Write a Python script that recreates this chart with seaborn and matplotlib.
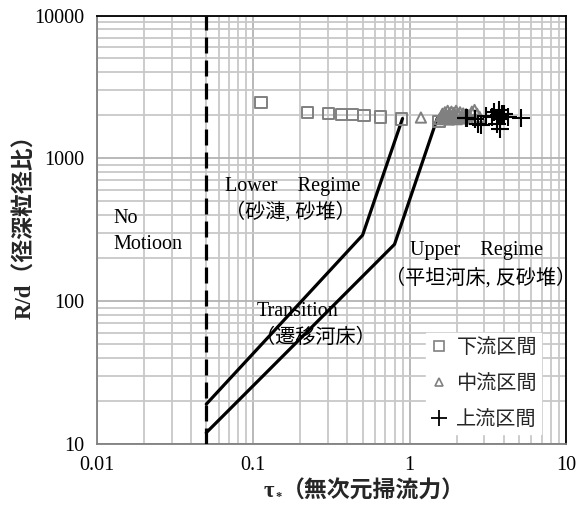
import numpy as np
import pandas as pd
import matplotlib
matplotlib.use("Agg")
import matplotlib.pyplot as plt
import matplotlib.ticker as mticker
from matplotlib.lines import Line2D
import seaborn as sns

# ---------------- data ----------------
sq_x = [0.112, 0.221, 0.301, 0.366, 0.43, 0.51, 0.65, 0.89, 1.54]
sq_y = [2460, 2090, 2055, 2030, 2020, 1990, 1950, 1885, 1810]

tri_x = [1.18, 1.55, 1.60, 1.62, 1.65, 1.68, 1.70, 1.72, 1.75, 1.78, 1.80, 1.82,
         1.85, 1.88, 1.90, 1.92, 1.95, 1.98, 2.00, 2.03, 2.06, 2.10, 2.13, 2.16,
         2.20, 2.25, 2.30, 2.35, 2.40, 2.50, 2.60, 2.70, 2.80]
tri_y = [1930, 1880, 1980, 2050, 1900, 2100, 1950, 2000, 2150, 1870, 2060, 1950,
         2120, 1900, 2020, 2080, 1960, 2150, 1880, 2050, 1980, 2100, 1920, 2000,
         2060, 1950, 2040, 1900, 2000, 2120, 2180, 2050, 1950]

cr_x = [2.29, 2.34, 2.60, 2.72, 2.85, 3.07, 3.38, 3.47, 3.62, 3.73, 3.73, 3.81,
        3.81, 3.90, 4.03, 4.26, 5.15]
cr_y = [1915, 1930, 1900, 1750, 1700, 1970, 1950, 2110, 1750, 2170, 2000, 1900,
        1615, 2050, 2055, 1950, 1915]

lower_x = [0.05, 0.5, 0.9]
lower_y = [19, 290, 1900]
upper_x = [0.05, 0.8, 1.5]
upper_y = [12, 250, 1900]
crit_x = [0.05, 0.05]
crit_y = [10, 10000]

series_labels = ["下流区間", "中流区間", "上流区間"]
x_ticks = [0.01, 0.1, 1, 10]
x_ticklabels = ["0.01", "0.1", "1", "10"]
y_ticks = [10, 100, 1000, 10000]
y_ticklabels = ["10", "100", "1000", "10000"]

# ---------------- style ----------------
sns.set_theme(style="white")
plt.rcParams["font.family"] = ["Liberation Serif", "Noto Sans CJK JP"]
plt.rcParams["axes.unicode_minus"] = False

fig = plt.figure(figsize=(5.76, 5.14), dpi=100)
ax = fig.add_axes([97 / 576, 70 / 514, (566 - 97) / 576, (444 - 15.5) / 514])
ax.set_xscale("log")
ax.set_yscale("log")
ax.set_xlim(0.01, 10)
ax.set_ylim(10, 10000)

# grid
ax.xaxis.set_minor_locator(mticker.LogLocator(base=10, subs=np.arange(2, 10)))
ax.yaxis.set_minor_locator(mticker.LogLocator(base=10, subs=np.arange(2, 10)))
ax.grid(True, which="major", color="#b3b3b3", linewidth=1.3, zorder=0)
ax.grid(True, which="minor", color="#c8c8c8", linewidth=1.3, zorder=0)
ax.set_axisbelow(True)

# lines
df_low = pd.DataFrame({"x": lower_x, "y": lower_y})
df_up = pd.DataFrame({"x": upper_x, "y": upper_y})
df_crit = pd.DataFrame({"x": crit_x, "y": crit_y})
sns.lineplot(data=df_low, x="x", y="y", ax=ax, color="black", linewidth=2.3,
             sort=False, estimator=None, zorder=3)
sns.lineplot(data=df_up, x="x", y="y", ax=ax, color="black", linewidth=2.3,
             sort=False, estimator=None, zorder=3)
ax.plot(df_crit["x"], df_crit["y"], color="black", linewidth=2.3,
        dashes=(5, 2.2), zorder=3)

# scatter
df_sq = pd.DataFrame({"x": sq_x, "y": sq_y})
df_tri = pd.DataFrame({"x": tri_x, "y": tri_y})
df_cr = pd.DataFrame({"x": cr_x, "y": cr_y})
sns.scatterplot(data=df_sq, x="x", y="y", ax=ax, marker="s", s=65,
                facecolor="none", edgecolor="#808080", linewidth=1.4, zorder=4)
sns.scatterplot(data=df_tri, x="x", y="y", ax=ax, marker="^", s=55,
                facecolor="none", edgecolor="#808080", linewidth=1.4, zorder=4)
sns.scatterplot(data=df_cr, x="x", y="y", ax=ax, marker="+", s=180,
                color="black", linewidth=1.5, zorder=5)

# ticks
ax.set_xticks(x_ticks)
ax.set_xticklabels(x_ticklabels)
ax.set_yticks(y_ticks)
ax.set_yticklabels(y_ticklabels)
ax.tick_params(axis="both", which="major", direction="out", length=5, width=1,
               color="#808080", labelsize=14.5, pad=4, labelcolor="black")
ax.tick_params(axis="both", which="minor", length=0)

for side in ["left", "bottom"]:
    ax.spines[side].set_color("#808080")
    ax.spines[side].set_linewidth(1.3)
for side in ["top", "right"]:
    ax.spines[side].set_color("black")
    ax.spines[side].set_linewidth(1.3)

# axis labels
ax.set_xlabel("（無次元掃流力）", fontsize=16.5, fontweight="bold")
xl = ax.xaxis.label
xl.set_va("center")
ax.xaxis.set_label_coords(0.59, -0.112)
ax.annotate("τ", xy=(0, 0.5), xycoords=xl, xytext=(-6, 0),
            textcoords="offset points", ha="right", va="center",
            fontsize=16.5, fontweight="bold", family=["Liberation Serif"])
ax.annotate("*", xy=(0, 0.5), xycoords=xl, xytext=(-0.5, -3.5),
            textcoords="offset points", ha="right", va="center",
            fontsize=9, fontweight="bold", family=["Liberation Serif"])

ax.set_ylabel("R/d（径深粒径比）", fontsize=16.5, fontweight="bold")
yl = ax.yaxis.label
yl.set_va("center")
ax.yaxis.set_label_coords(-0.152, 0.52)

# annotations
tkw = dict(ha="left", va="center", fontsize=14.5, color="black", zorder=6)
ax.text(0.0127, 380, "No", **tkw)
ax.text(0.0127, 250, "Motioon", **tkw)
ax.text(0.066, 632, "Lower\u2003Regime", **tkw)
ax.text(0.066, 419, "（砂漣, 砂堆）", **tkw)
ax.text(1.01, 227, "Upper\u2003Regime", **tkw)
ax.text(0.70, 145, "（平坦河床, 反砂堆）", **tkw)
ax.text(0.1045, 84, "Transition", **tkw)
ax.text(0.103, 55, "（遷移河床）", **tkw)

# legend
handles = [
    Line2D([], [], linestyle="none", marker="s", markersize=7,
           markerfacecolor="none", markeredgecolor="#808080", markeredgewidth=1.2),
    Line2D([], [], linestyle="none", marker="^", markersize=6,
           markerfacecolor="none", markeredgecolor="#808080", markeredgewidth=1.2),
    Line2D([], [], linestyle="none", marker="+", markersize=12,
           markeredgecolor="black", markeredgewidth=1.3),
]
leg = ax.legend(handles, series_labels, loc="lower right",
                bbox_to_anchor=(0.968, 0.0), frameon=True, fancybox=False,
                framealpha=1.0, edgecolor="white", facecolor="white",
                prop={"family": ["Noto Sans CJK JP"], "size": 14.5},
                handlelength=0.9, handletextpad=0.4, labelspacing=0.74,
                borderpad=0.2)
leg.set_zorder(10)

fig.savefig("out.png", dpi=100)
